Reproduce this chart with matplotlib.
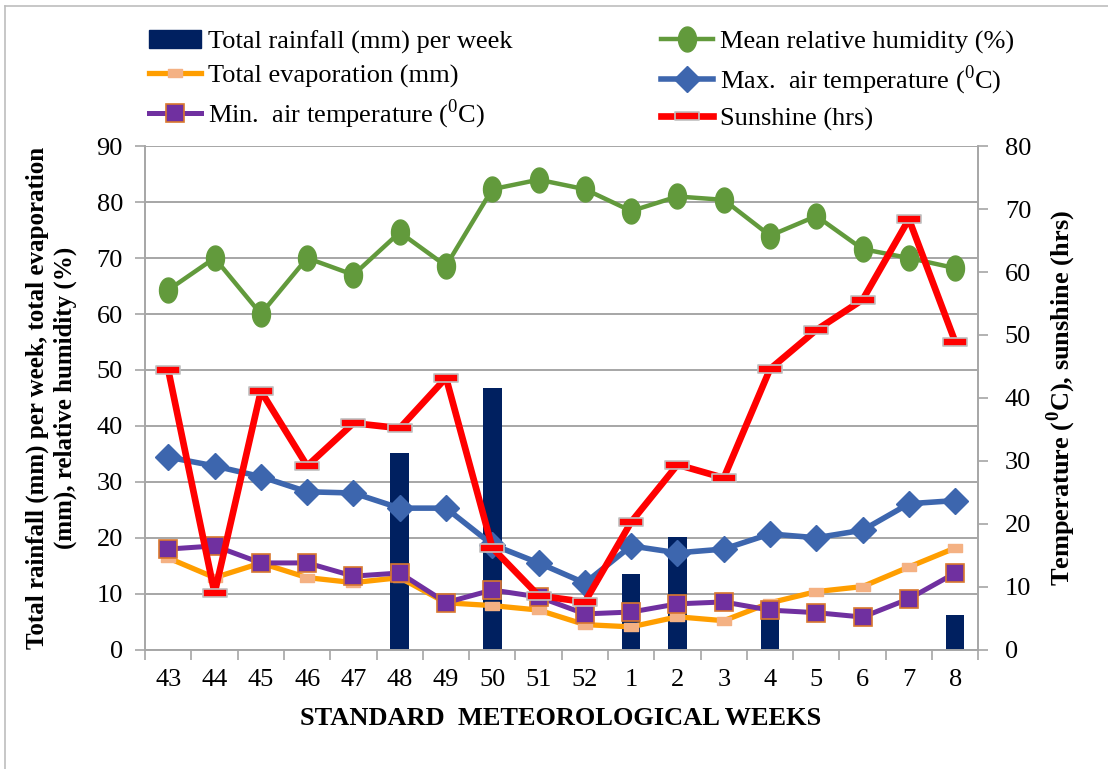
import matplotlib

matplotlib.use("Agg")
import matplotlib.pyplot as plt
import numpy as np
from matplotlib.lines import Line2D
from matplotlib.patches import Patch
from matplotlib.path import Path

plt.rcParams["font.family"] = ["Liberation Serif", "DejaVu Serif"]
plt.rcParams["mathtext.fontset"] = "custom"
plt.rcParams["mathtext.rm"] = "Liberation Serif"
plt.rcParams["mathtext.bf"] = "Liberation Serif:bold"

weeks = ["43", "44", "45", "46", "47", "48", "49", "50", "51", "52",
         "1", "2", "3", "4", "5", "6", "7", "8"]

# left axis series
rainfall = [0, 0, 0, 0, 0, 35.2, 0, 46.8, 0, 0, 13.6, 20.2, 0, 7.0, 0, 0, 0, 6.2]
evaporation = [16.4, 12.9, 15.5, 12.9, 12.0, 12.9, 8.4, 7.9, 7.1, 4.5,
               4.1, 5.9, 5.2, 8.4, 10.4, 11.3, 14.8, 18.2]
humidity = [64.3, 70.0, 60.0, 70.0, 67.0, 74.6, 68.6, 82.3, 84.0, 82.3,
            78.4, 81.0, 80.4, 74.0, 77.5, 71.6, 70.0, 68.2]

# right axis series
max_temp = [30.6, 29.2, 27.5, 25.1, 24.9, 22.5, 22.5, 16.7, 13.8, 10.6,
            16.5, 15.4, 16.0, 18.4, 17.8, 19.0, 23.2, 23.7]
min_temp = [16.0, 16.5, 13.8, 13.8, 11.7, 12.2, 7.5, 9.5, 8.4, 5.7,
            6.0, 7.3, 7.6, 6.3, 5.9, 5.2, 8.1, 12.2]
sunshine = [44.4, 9.0, 41.1, 29.2, 36.0, 35.2, 43.2, 16.2, 8.6, 7.6,
            20.3, 29.4, 27.3, 44.6, 50.8, 55.6, 68.4, 48.9]


def rect_marker(w, h):
    verts = [(-w, -h), (w, -h), (w, h), (-w, h), (-w, -h)]
    codes = [Path.MOVETO] + [Path.LINETO] * 3 + [Path.CLOSEPOLY]
    return Path(verts, codes)


t = np.linspace(0, 2 * np.pi, 40)
ellipse = Path(np.column_stack([0.36 * np.cos(t), 0.5 * np.sin(t)]), closed=True)
dash_evap = rect_marker(0.5, 0.28)
dash_sun = rect_marker(0.5, 0.16)

GRID = "#A6A6A6"
FS = 19

evap_style = dict(color="#FF9E00", lw=3.8, marker=dash_evap, ms=10,
                  mfc="#F4B183", mec="#F4B183")
hum_style = dict(color="#629A3C", lw=3.2, marker=ellipse, ms=18,
                 mfc="#629A3C", mec="#629A3C")
max_style = dict(color="#3D66AE", lw=4.0, marker="D", ms=13,
                 mfc="#3D66AE", mec="#3D66AE")
min_style = dict(color="#7030A0", lw=3.6, marker="s", ms=13,
                 mfc="#7030A0", mec="#D9782F", mew=1.2)
sun_style = dict(color="#FF0000", lw=4.8, marker=dash_sun, ms=17,
                 mfc="#FF0000", mec="#C0C0C0", mew=1.2)

fig = plt.figure(figsize=(11.08, 7.69), dpi=100)
ax = fig.add_axes([0.131, 0.155, 0.752, 0.655])
ax2 = ax.twinx()

x = np.arange(len(weeks))
ax.bar(x, rainfall, width=0.4, color="#002060", zorder=2)
ax.plot(x, evaporation, zorder=3, **evap_style)
ax.plot(x, humidity, zorder=3, **hum_style)

ax2.plot(x, max_temp, **max_style)
ax2.plot(x, min_temp, **min_style)
ax2.plot(x, sunshine, **sun_style)

ax.set_xlim(-0.5, len(weeks) - 0.5)
ax.set_ylim(0, 90)
ax.set_yticks(np.arange(0, 91, 10))
ax2.set_ylim(0, 80)
ax2.set_yticks(np.arange(0, 81, 10))
ax.set_xticks(x)
ax.set_xticklabels(weeks)
ax.set_xticks(np.arange(-0.5, len(weeks), 1), minor=True)
ax.tick_params(axis="x", which="major", length=0, labelsize=FS, pad=14)
ax.tick_params(axis="x", which="minor", length=7, color=GRID, width=1.2)
ax.tick_params(axis="y", length=7, color=GRID, width=1.2, labelsize=FS, pad=9)
ax2.tick_params(axis="y", length=7, color=GRID, width=1.2, labelsize=FS, pad=12)
ax.grid(axis="y", color=GRID, lw=1.4, zorder=0)
ax.set_axisbelow(True)
for a in (ax, ax2):
    a.spines["top"].set_visible(False)
    for s in ("left", "right", "bottom"):
        a.spines[s].set_color(GRID)
        a.spines[s].set_linewidth(1.2)

fig.text(0.046, 0.482,
         "Total rainfall (mm) per week, total evaporation\n(mm), relative humidity (%)",
         rotation=90, ha="center", va="center", fontsize=18, fontweight="bold",
         linespacing=1.25)
fig.text(0.958, 0.482, r"Temperature ($^{\mathbf{0}}$C), sunshine (hrs)",
         rotation=90, ha="center", va="center", fontsize=FS, fontweight="bold")
fig.text(0.506, 0.066, "STANDARD  METEOROLOGICAL WEEKS", ha="center", va="center",
         fontsize=FS, fontweight="bold")

left_handles = [
    Patch(facecolor="#002060", edgecolor="#002060"),
    Line2D([], [], **evap_style),
    Line2D([], [], **min_style),
]
left_labels = ["Total rainfall (mm) per week", "Total evaporation (mm)",
               r"Min.  air temperature ($^{0}$C)"]
right_handles = [
    Line2D([], [], **hum_style),
    Line2D([], [], **max_style),
    Line2D([], [], **sun_style),
]
right_labels = ["Mean relative humidity (%)", r"Max.  air temperature ($^{0}$C)",
                "Sunshine (hrs)"]
for handles, labels, xpos in ((left_handles, left_labels, 0.1245),
                              (right_handles, right_labels, 0.5866)):
    fig.legend(handles, labels, loc="upper left", bbox_to_anchor=(xpos, 0.975),
               frameon=False, fontsize=FS, numpoints=1, handlelength=2.0,
               handletextpad=0.25, labelspacing=0.38, borderaxespad=0)

# frame edges along the top and left of the figure
fig.add_artist(Line2D([5 / 1108, 1], [1 - 6 / 769, 1 - 6 / 769],
                      color="#BDBDBD", lw=1.2, transform=fig.transFigure))
fig.add_artist(Line2D([5 / 1108, 5 / 1108], [0, 1 - 6 / 769],
                      color="#BDBDBD", lw=1.2, transform=fig.transFigure))

fig.savefig("out.png", dpi=100)
plt.close(fig)
